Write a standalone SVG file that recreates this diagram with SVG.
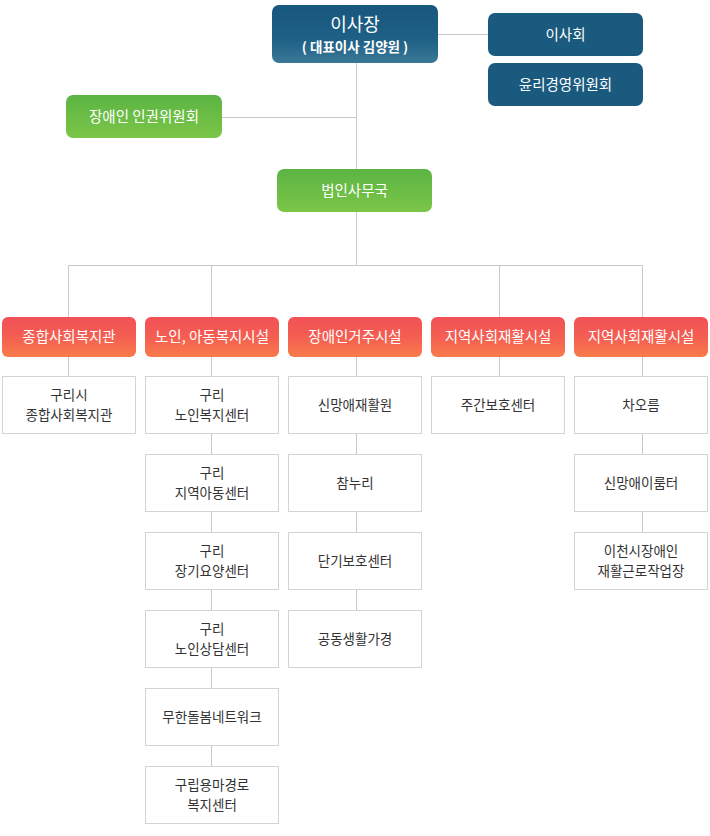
<svg xmlns="http://www.w3.org/2000/svg" width="710" height="836" viewBox="0 0 710 836">
<defs>
<linearGradient id="gBlue" x1="0" y1="0" x2="0" y2="1"><stop offset="0" stop-color="#18577d"/><stop offset="0.6" stop-color="#1f6086"/><stop offset="1" stop-color="#3a7896"/></linearGradient>
<linearGradient id="gBlue2" x1="0" y1="0" x2="0" y2="1"><stop offset="0" stop-color="#1a5a7e"/><stop offset="1" stop-color="#1a5a7e"/></linearGradient>
<linearGradient id="gGreen" x1="0" y1="0" x2="0" y2="1"><stop offset="0" stop-color="#5bb543"/><stop offset="1" stop-color="#7cc548"/></linearGradient>
<linearGradient id="gRed" x1="0" y1="0" x2="0" y2="1"><stop offset="0" stop-color="#f25157"/><stop offset="0.5" stop-color="#f45e52"/><stop offset="1" stop-color="#f87b4a"/></linearGradient>
</defs>
<style>
text{font-family:"Noto Sans CJK KR","Noto Sans",sans-serif;text-anchor:middle;}
.w{fill:#ffffff;font-size:14.5px;}
.d{fill:#333333;font-size:13.5px;}
.box{fill:#ffffff;stroke:#d4d4d4;stroke-width:1;}
.ln{stroke:#c8c8c8;stroke-width:1;fill:none;}
</style>
<g id="connectors">
<path class="ln" d="M356.5 63V265.5M438 34.5H488M222 117.5H356.5M68.5 265.5H642.5M68.5 265.5V317M211.5 265.5V317M499.5 265.5V317M642.5 265.5V317"/>
<path class="ln" d="M68.5 357V376M211.5 357V823M356.5 357V667M499.5 357V376M642.5 357V589"/>
</g>
<g id="n-chair"><rect x="272" y="5" width="166" height="58" rx="7" fill="url(#gBlue)"/><text class="w" x="355" y="31" style="font-size:18px">이사장</text><text class="w" x="355" y="52" style="font-size:13.5px;font-weight:bold">( 대표이사 김양원 )</text></g>
<g id="n-board"><rect x="488" y="13" width="155" height="43" rx="7" fill="url(#gBlue2)"/><text class="w" x="565.5" y="39.5">이사회</text></g>
<g id="n-ethics"><rect x="488" y="63" width="155" height="43" rx="7" fill="url(#gBlue2)"/><text class="w" x="565.5" y="89.5">윤리경영위원회</text></g>
<g id="n-rights"><rect x="66" y="95" width="156" height="43" rx="7" fill="url(#gGreen)"/><text class="w" x="144" y="121.5">장애인 인권위원회</text></g>
<g id="n-office"><rect x="277" y="169" width="155" height="43" rx="7" fill="url(#gGreen)"/><text class="w" x="354.5" y="195.5">법인사무국</text></g>
<g id="h1"><rect x="2" y="317" width="134" height="40" rx="6" fill="url(#gRed)"/><text class="w" x="69" y="342">종합사회복지관</text></g>
<g id="h2"><rect x="145" y="317" width="134" height="40" rx="6" fill="url(#gRed)"/><text class="w" x="212" y="342">노인, 아동복지시설</text></g>
<g id="h3"><rect x="288" y="317" width="134" height="40" rx="6" fill="url(#gRed)"/><text class="w" x="355" y="342">장애인거주시설</text></g>
<g id="h4"><rect x="431" y="317" width="134" height="40" rx="6" fill="url(#gRed)"/><text class="w" x="498" y="342">지역사회재활시설</text></g>
<g id="h5"><rect x="574" y="317" width="134" height="40" rx="6" fill="url(#gRed)"/><text class="w" x="641" y="342">지역사회재활시설</text></g>
<g id="c1-1"><rect class="box" x="2.5" y="376.5" width="133" height="57"/><text class="d" x="69" y="400">구리시</text><text class="d" x="69" y="420">종합사회복지관</text></g>
<g id="c2-1"><rect class="box" x="145.5" y="376.5" width="133" height="57"/><text class="d" x="212" y="400">구리</text><text class="d" x="212" y="420">노인복지센터</text></g>
<g id="c2-2"><rect class="box" x="145.5" y="454.5" width="133" height="57"/><text class="d" x="212" y="478">구리</text><text class="d" x="212" y="498">지역아동센터</text></g>
<g id="c2-3"><rect class="box" x="145.5" y="532.5" width="133" height="57"/><text class="d" x="212" y="556">구리</text><text class="d" x="212" y="576">장기요양센터</text></g>
<g id="c2-4"><rect class="box" x="145.5" y="610.5" width="133" height="57"/><text class="d" x="212" y="634">구리</text><text class="d" x="212" y="654">노인상담센터</text></g>
<g id="c2-5"><rect class="box" x="145.5" y="688.5" width="133" height="57"/><text class="d" x="212" y="722">무한돌봄네트워크</text></g>
<g id="c2-6"><rect class="box" x="145.5" y="766.5" width="133" height="57"/><text class="d" x="212" y="790">구립용마경로</text><text class="d" x="212" y="810">복지센터</text></g>
<g id="c3-1"><rect class="box" x="288.5" y="376.5" width="133" height="57"/><text class="d" x="355" y="410">신망애재활원</text></g>
<g id="c3-2"><rect class="box" x="288.5" y="454.5" width="133" height="57"/><text class="d" x="355" y="488">참누리</text></g>
<g id="c3-3"><rect class="box" x="288.5" y="532.5" width="133" height="57"/><text class="d" x="355" y="566">단기보호센터</text></g>
<g id="c3-4"><rect class="box" x="288.5" y="610.5" width="133" height="57"/><text class="d" x="355" y="644">공동생활가경</text></g>
<g id="c4-1"><rect class="box" x="431.5" y="376.5" width="133" height="57"/><text class="d" x="498" y="410">주간보호센터</text></g>
<g id="c5-1"><rect class="box" x="574.5" y="376.5" width="133" height="57"/><text class="d" x="641" y="410">차오름</text></g>
<g id="c5-2"><rect class="box" x="574.5" y="454.5" width="133" height="57"/><text class="d" x="641" y="488">신망애이룸터</text></g>
<g id="c5-3"><rect class="box" x="574.5" y="532.5" width="133" height="57"/><text class="d" x="641" y="556">이천시장애인</text><text class="d" x="641" y="576">재활근로작업장</text></g>
</svg>
